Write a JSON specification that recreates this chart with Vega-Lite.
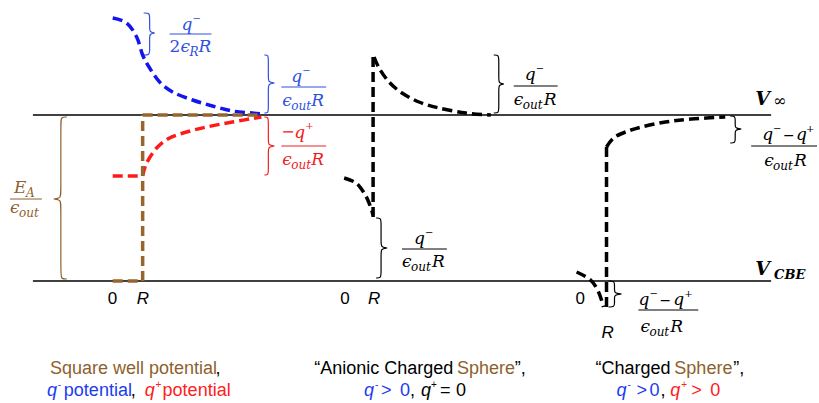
{
"$schema": "https://vega.github.io/schema/vega-lite/v6.json",
"width": 819, "height": 403,
"autosize": {"type": "fit", "contains": "padding"},
"padding": 0,
"background": "white",
"config": {"view": {"stroke": null}},
"datasets": {
"dash": [
{"id":"red1","o":1,"x":113,"y":176,"c":"#FF1A1A"},{"id":"red1","o":2,"x":143,"y":176,"c":"#FF1A1A"},
{"id":"red2","o":1,"x":143,"y":176,"c":"#FF1A1A"},{"id":"red2","o":2,"x":147,"y":163,"c":"#FF1A1A"},{"id":"red2","o":3,"x":157,"y":148,"c":"#FF1A1A"},{"id":"red2","o":4,"x":170,"y":138,"c":"#FF1A1A"},{"id":"red2","o":5,"x":187,"y":132,"c":"#FF1A1A"},{"id":"red2","o":6,"x":207,"y":127,"c":"#FF1A1A"},{"id":"red2","o":7,"x":233,"y":122,"c":"#FF1A1A"},{"id":"red2","o":8,"x":262,"y":117,"c":"#FF1A1A"},
{"id":"blue","o":1,"x":113,"y":18,"c":"#1414F0"},{"id":"blue","o":2,"x":127,"y":23,"c":"#1414F0"},{"id":"blue","o":3,"x":137,"y":37,"c":"#1414F0"},{"id":"blue","o":4,"x":143,"y":55,"c":"#1414F0"},{"id":"blue","o":5,"x":150,"y":68,"c":"#1414F0"},{"id":"blue","o":6,"x":160,"y":82,"c":"#1414F0"},{"id":"blue","o":7,"x":173,"y":92,"c":"#1414F0"},{"id":"blue","o":8,"x":193,"y":100,"c":"#1414F0"},{"id":"blue","o":9,"x":213,"y":106,"c":"#1414F0"},{"id":"blue","o":10,"x":233,"y":111,"c":"#1414F0"},{"id":"blue","o":11,"x":253,"y":113,"c":"#1414F0"},{"id":"blue","o":12,"x":262,"y":114,"c":"#1414F0"},
{"id":"br1","o":1,"x":113,"y":281,"c":"#98652F"},{"id":"br1","o":2,"x":143,"y":281,"c":"#98652F"},
{"id":"br2","o":1,"x":143,"y":281,"c":"#98652F"},{"id":"br2","o":2,"x":143,"y":115,"c":"#98652F"},
{"id":"br3","o":1,"x":143,"y":115,"c":"#98652F"},{"id":"br3","o":2,"x":262,"y":115,"c":"#98652F"},
{"id":"k2v","o":1,"x":374,"y":217,"c":"#000000"},{"id":"k2v","o":2,"x":374,"y":55,"c":"#000000"},
{"id":"k2c","o":1,"x":375,"y":57,"c":"#000000"},{"id":"k2c","o":2,"x":380,"y":68,"c":"#000000"},{"id":"k2c","o":3,"x":390,"y":82,"c":"#000000"},{"id":"k2c","o":4,"x":403,"y":93,"c":"#000000"},{"id":"k2c","o":5,"x":420,"y":102,"c":"#000000"},{"id":"k2c","o":6,"x":440,"y":108,"c":"#000000"},{"id":"k2c","o":7,"x":467,"y":113,"c":"#000000"},{"id":"k2c","o":8,"x":492,"y":115,"c":"#000000"},
{"id":"k2l","o":1,"x":345,"y":178,"c":"#000000"},{"id":"k2l","o":2,"x":357,"y":183,"c":"#000000"},{"id":"k2l","o":3,"x":365,"y":193,"c":"#000000"},{"id":"k2l","o":4,"x":370,"y":203,"c":"#000000"},{"id":"k2l","o":5,"x":374,"y":215,"c":"#000000"},
{"id":"k3v","o":1,"x":608,"y":147,"c":"#000000"},{"id":"k3v","o":2,"x":608,"y":310,"c":"#000000"},
{"id":"k3c","o":1,"x":608,"y":147,"c":"#000000"},{"id":"k3c","o":2,"x":615,"y":138,"c":"#000000"},{"id":"k3c","o":3,"x":627,"y":132,"c":"#000000"},{"id":"k3c","o":4,"x":643,"y":127,"c":"#000000"},{"id":"k3c","o":5,"x":667,"y":122,"c":"#000000"},{"id":"k3c","o":6,"x":693,"y":119,"c":"#000000"},{"id":"k3c","o":7,"x":727,"y":117,"c":"#000000"},
{"id":"k3l","o":1,"x":578,"y":272,"c":"#000000"},{"id":"k3l","o":2,"x":592,"y":280,"c":"#000000"},{"id":"k3l","o":3,"x":600,"y":292,"c":"#000000"},{"id":"k3l","o":4,"x":605,"y":307,"c":"#000000"}
],
"solid": [
{"id":"h1","o":1,"x":33,"y":115,"c":"#000000","w":1.3},{"id":"h1","o":2,"x":773,"y":115,"c":"#000000","w":1.3},
{"id":"h2","o":1,"x":33,"y":281,"c":"#000000","w":1.3},{"id":"h2","o":2,"x":773,"y":281,"c":"#000000","w":1.3},
{"id":"f1","o":1,"x":170,"y":34,"c":"#3050E0","w":1},{"id":"f1","o":2,"x":212,"y":34,"c":"#3050E0","w":1},
{"id":"f2","o":1,"x":282,"y":87,"c":"#3050E0","w":1},{"id":"f2","o":2,"x":327,"y":87,"c":"#3050E0","w":1},
{"id":"f3","o":1,"x":282,"y":146,"c":"#F02020","w":1},{"id":"f3","o":2,"x":327,"y":146,"c":"#F02020","w":1},
{"id":"f4","o":1,"x":515,"y":86,"c":"#000000","w":1},{"id":"f4","o":2,"x":559,"y":86,"c":"#000000","w":1},
{"id":"f5","o":1,"x":403,"y":249,"c":"#000000","w":1},{"id":"f5","o":2,"x":448,"y":249,"c":"#000000","w":1},
{"id":"f6","o":1,"x":10,"y":199,"c":"#8E5F2E","w":1},{"id":"f6","o":2,"x":42,"y":199,"c":"#8E5F2E","w":1},
{"id":"f7","o":1,"x":753,"y":146,"c":"#000000","w":1},{"id":"f7","o":2,"x":819,"y":146,"c":"#000000","w":1},
{"id":"f8","o":1,"x":640,"y":310,"c":"#000000","w":1},{"id":"f8","o":2,"x":700,"y":310,"c":"#000000","w":1},
{"id":"b1","o":1,"x":67,"y":117,"c":"#8E5F2E","w":1.2},{"id":"b1","o":2,"x":61,"y":117,"c":"#8E5F2E","w":1.2},{"id":"b1","o":3,"x":61,"y":123,"c":"#8E5F2E","w":1.2},{"id":"b1","o":4,"x":61,"y":193,"c":"#8E5F2E","w":1.2},{"id":"b1","o":5,"x":61,"y":198,"c":"#8E5F2E","w":1.2},{"id":"b1","o":6,"x":54,"y":199,"c":"#8E5F2E","w":1.2},{"id":"b1","o":7,"x":54,"y":199,"c":"#8E5F2E","w":1.2},{"id":"b1","o":8,"x":61,"y":200,"c":"#8E5F2E","w":1.2},{"id":"b1","o":9,"x":61,"y":205,"c":"#8E5F2E","w":1.2},{"id":"b1","o":10,"x":61,"y":273,"c":"#8E5F2E","w":1.2},{"id":"b1","o":11,"x":61,"y":279,"c":"#8E5F2E","w":1.2},{"id":"b1","o":12,"x":67,"y":279,"c":"#8E5F2E","w":1.2},
{"id":"b2","o":1,"x":144,"y":13,"c":"#3050E0","w":1.2},{"id":"b2","o":2,"x":150,"y":13,"c":"#3050E0","w":1.2},{"id":"b2","o":3,"x":150,"y":18,"c":"#3050E0","w":1.2},{"id":"b2","o":4,"x":150,"y":28,"c":"#3050E0","w":1.2},{"id":"b2","o":5,"x":150,"y":32,"c":"#3050E0","w":1.2},{"id":"b2","o":6,"x":155,"y":33,"c":"#3050E0","w":1.2},{"id":"b2","o":7,"x":155,"y":33,"c":"#3050E0","w":1.2},{"id":"b2","o":8,"x":150,"y":34,"c":"#3050E0","w":1.2},{"id":"b2","o":9,"x":150,"y":38,"c":"#3050E0","w":1.2},{"id":"b2","o":10,"x":150,"y":50,"c":"#3050E0","w":1.2},{"id":"b2","o":11,"x":150,"y":55,"c":"#3050E0","w":1.2},{"id":"b2","o":12,"x":144,"y":55,"c":"#3050E0","w":1.2},
{"id":"b3","o":1,"x":265,"y":55,"c":"#3050E0","w":1.2},{"id":"b3","o":2,"x":269,"y":55,"c":"#3050E0","w":1.2},{"id":"b3","o":3,"x":269,"y":60,"c":"#3050E0","w":1.2},{"id":"b3","o":4,"x":269,"y":78,"c":"#3050E0","w":1.2},{"id":"b3","o":5,"x":269,"y":82,"c":"#3050E0","w":1.2},{"id":"b3","o":6,"x":275,"y":83,"c":"#3050E0","w":1.2},{"id":"b3","o":7,"x":275,"y":83,"c":"#3050E0","w":1.2},{"id":"b3","o":8,"x":269,"y":84,"c":"#3050E0","w":1.2},{"id":"b3","o":9,"x":269,"y":88,"c":"#3050E0","w":1.2},{"id":"b3","o":10,"x":269,"y":108,"c":"#3050E0","w":1.2},{"id":"b3","o":11,"x":269,"y":113,"c":"#3050E0","w":1.2},{"id":"b3","o":12,"x":265,"y":113,"c":"#3050E0","w":1.2},
{"id":"b4","o":1,"x":265,"y":117,"c":"#F02020","w":1.2},{"id":"b4","o":2,"x":269,"y":117,"c":"#F02020","w":1.2},{"id":"b4","o":3,"x":269,"y":122,"c":"#F02020","w":1.2},{"id":"b4","o":4,"x":269,"y":141,"c":"#F02020","w":1.2},{"id":"b4","o":5,"x":269,"y":145,"c":"#F02020","w":1.2},{"id":"b4","o":6,"x":275,"y":146,"c":"#F02020","w":1.2},{"id":"b4","o":7,"x":275,"y":146,"c":"#F02020","w":1.2},{"id":"b4","o":8,"x":269,"y":147,"c":"#F02020","w":1.2},{"id":"b4","o":9,"x":269,"y":151,"c":"#F02020","w":1.2},{"id":"b4","o":10,"x":269,"y":170,"c":"#F02020","w":1.2},{"id":"b4","o":11,"x":269,"y":175,"c":"#F02020","w":1.2},{"id":"b4","o":12,"x":265,"y":175,"c":"#F02020","w":1.2},
{"id":"b5","o":1,"x":495,"y":55,"c":"#000000","w":1.2},{"id":"b5","o":2,"x":500,"y":55,"c":"#000000","w":1.2},{"id":"b5","o":3,"x":500,"y":60,"c":"#000000","w":1.2},{"id":"b5","o":4,"x":500,"y":79,"c":"#000000","w":1.2},{"id":"b5","o":5,"x":500,"y":83,"c":"#000000","w":1.2},{"id":"b5","o":6,"x":505,"y":84,"c":"#000000","w":1.2},{"id":"b5","o":7,"x":505,"y":84,"c":"#000000","w":1.2},{"id":"b5","o":8,"x":500,"y":85,"c":"#000000","w":1.2},{"id":"b5","o":9,"x":500,"y":89,"c":"#000000","w":1.2},{"id":"b5","o":10,"x":500,"y":108,"c":"#000000","w":1.2},{"id":"b5","o":11,"x":500,"y":113,"c":"#000000","w":1.2},{"id":"b5","o":12,"x":495,"y":113,"c":"#000000","w":1.2},
{"id":"b6","o":1,"x":377,"y":218,"c":"#000000","w":1.2},{"id":"b6","o":2,"x":382,"y":218,"c":"#000000","w":1.2},{"id":"b6","o":3,"x":382,"y":223,"c":"#000000","w":1.2},{"id":"b6","o":4,"x":382,"y":243,"c":"#000000","w":1.2},{"id":"b6","o":5,"x":382,"y":247,"c":"#000000","w":1.2},{"id":"b6","o":6,"x":388,"y":248,"c":"#000000","w":1.2},{"id":"b6","o":7,"x":388,"y":248,"c":"#000000","w":1.2},{"id":"b6","o":8,"x":382,"y":249,"c":"#000000","w":1.2},{"id":"b6","o":9,"x":382,"y":253,"c":"#000000","w":1.2},{"id":"b6","o":10,"x":382,"y":273,"c":"#000000","w":1.2},{"id":"b6","o":11,"x":382,"y":278,"c":"#000000","w":1.2},{"id":"b6","o":12,"x":377,"y":278,"c":"#000000","w":1.2},
{"id":"b7","o":1,"x":732,"y":116,"c":"#000000","w":1.2},{"id":"b7","o":2,"x":737,"y":116,"c":"#000000","w":1.2},{"id":"b7","o":3,"x":737,"y":120,"c":"#000000","w":1.2},{"id":"b7","o":4,"x":737,"y":125,"c":"#000000","w":1.2},{"id":"b7","o":5,"x":737,"y":128,"c":"#000000","w":1.2},{"id":"b7","o":6,"x":743,"y":129,"c":"#000000","w":1.2},{"id":"b7","o":7,"x":743,"y":129,"c":"#000000","w":1.2},{"id":"b7","o":8,"x":737,"y":130,"c":"#000000","w":1.2},{"id":"b7","o":9,"x":737,"y":133,"c":"#000000","w":1.2},{"id":"b7","o":10,"x":737,"y":139,"c":"#000000","w":1.2},{"id":"b7","o":11,"x":737,"y":143,"c":"#000000","w":1.2},{"id":"b7","o":12,"x":732,"y":143,"c":"#000000","w":1.2},
{"id":"b8","o":1,"x":610,"y":281,"c":"#000000","w":1.2},{"id":"b8","o":2,"x":616,"y":281,"c":"#000000","w":1.2},{"id":"b8","o":3,"x":616,"y":285,"c":"#000000","w":1.2},{"id":"b8","o":4,"x":616,"y":290,"c":"#000000","w":1.2},{"id":"b8","o":5,"x":616,"y":293,"c":"#000000","w":1.2},{"id":"b8","o":6,"x":623,"y":294,"c":"#000000","w":1.2},{"id":"b8","o":7,"x":623,"y":294,"c":"#000000","w":1.2},{"id":"b8","o":8,"x":616,"y":295,"c":"#000000","w":1.2},{"id":"b8","o":9,"x":616,"y":298,"c":"#000000","w":1.2},{"id":"b8","o":10,"x":616,"y":303,"c":"#000000","w":1.2},{"id":"b8","o":11,"x":616,"y":307,"c":"#000000","w":1.2},{"id":"b8","o":12,"x":610,"y":307,"c":"#000000","w":1.2}
],
"txt": [
{"k":"mi","x":182,"y":30,"t":"q","c":"#3050E0","s":17},{"k":"mr","x":193,"y":22,"t":"−","c":"#3050E0","s":10},{"k":"mr","x":170,"y":52,"t":"2","c":"#3050E0","s":17},{"k":"mi","x":181,"y":52,"t":"ϵ","c":"#3050E0","s":17},{"k":"mi","x":190,"y":56,"t":"R","c":"#3050E0","s":12},{"k":"mi","x":199,"y":52,"t":"R","c":"#3050E0","s":17},
{"k":"mi","x":292,"y":82,"t":"q","c":"#3050E0","s":17},{"k":"mr","x":303,"y":74,"t":"−","c":"#3050E0","s":10},{"k":"mi","x":283,"y":106,"t":"ϵ","c":"#3050E0","s":17},{"k":"mi","x":292,"y":110,"t":"out","c":"#3050E0","s":12},{"k":"mi","x":312,"y":106,"t":"R","c":"#3050E0","s":17},
{"k":"mr","x":282,"y":137,"t":"−","c":"#F02020","s":16},{"k":"mi","x":295,"y":138,"t":"q","c":"#F02020","s":17},{"k":"mr","x":306,"y":129,"t":"+","c":"#F02020","s":10},{"k":"mi","x":283,"y":165,"t":"ϵ","c":"#F02020","s":17},{"k":"mi","x":292,"y":169,"t":"out","c":"#F02020","s":12},{"k":"mi","x":312,"y":165,"t":"R","c":"#F02020","s":17},
{"k":"mi","x":526,"y":80,"t":"q","c":"#000000","s":17},{"k":"mr","x":537,"y":72,"t":"−","c":"#000000","s":10},{"k":"mi","x":515,"y":105,"t":"ϵ","c":"#000000","s":17},{"k":"mi","x":524,"y":109,"t":"out","c":"#000000","s":12},{"k":"mi","x":545,"y":105,"t":"R","c":"#000000","s":17},
{"k":"mi","x":415,"y":244,"t":"q","c":"#000000","s":17},{"k":"mr","x":426,"y":236,"t":"−","c":"#000000","s":10},{"k":"mi","x":403,"y":267,"t":"ϵ","c":"#000000","s":17},{"k":"mi","x":412,"y":271,"t":"out","c":"#000000","s":12},{"k":"mi","x":433,"y":267,"t":"R","c":"#000000","s":17},
{"k":"mi","x":14,"y":193,"t":"E","c":"#8E5F2E","s":17},{"k":"mi","x":26,"y":197,"t":"A","c":"#8E5F2E","s":12},{"k":"mi","x":10,"y":213,"t":"ϵ","c":"#8E5F2E","s":17},{"k":"mi","x":19,"y":217,"t":"out","c":"#8E5F2E","s":12},
{"k":"mi","x":764,"y":140,"t":"q","c":"#000000","s":17},{"k":"mr","x":775,"y":132,"t":"−","c":"#000000","s":10},{"k":"mr","x":785,"y":140,"t":"−","c":"#000000","s":14},{"k":"mi","x":798,"y":140,"t":"q","c":"#000000","s":17},{"k":"mr","x":808,"y":132,"t":"+","c":"#000000","s":10},{"k":"mi","x":766,"y":166,"t":"ϵ","c":"#000000","s":17},{"k":"mi","x":775,"y":170,"t":"out","c":"#000000","s":12},{"k":"mi","x":796,"y":166,"t":"R","c":"#000000","s":17},
{"k":"mi","x":640,"y":305,"t":"q","c":"#000000","s":17},{"k":"mr","x":651,"y":297,"t":"−","c":"#000000","s":10},{"k":"mr","x":661,"y":305,"t":"−","c":"#000000","s":14},{"k":"mi","x":675,"y":305,"t":"q","c":"#000000","s":17},{"k":"mr","x":686,"y":297,"t":"+","c":"#000000","s":10},{"k":"mi","x":642,"y":332,"t":"ϵ","c":"#000000","s":17},{"k":"mi","x":651,"y":336,"t":"out","c":"#000000","s":12},{"k":"mi","x":672,"y":332,"t":"R","c":"#000000","s":17},
{"k":"mb","x":757,"y":105,"t":"V","c":"#000000","s":19},{"k":"mr","x":775,"y":106,"t":"∞","c":"#000000","s":16},{"k":"mb","x":757,"y":275,"t":"V","c":"#000000","s":19},{"k":"mb","x":776,"y":279,"t":"CBE","c":"#000000","s":13},
{"k":"sr","x":108,"y":304,"t":"0","c":"#000000","s":17},{"k":"si","x":137,"y":304,"t":"R","c":"#000000","s":17},{"k":"sr","x":341,"y":304,"t":"0","c":"#000000","s":17},{"k":"si","x":369,"y":304,"t":"R","c":"#000000","s":17},{"k":"sr","x":577,"y":304,"t":"0","c":"#000000","s":17},{"k":"si","x":603,"y":338,"t":"R","c":"#000000","s":17},
{"k":"sr","x":50,"y":374,"t":"Square well potential","c":"#8E5F2E","s":18},{"k":"sr","x":216,"y":374,"t":",","c":"#000000","s":18},
{"k":"si","x":47,"y":396,"t":"q","c":"#1A3CF0","s":18},{"k":"sr","x":58,"y":388,"t":"-","c":"#1A3CF0","s":10},{"k":"sr","x":64,"y":396,"t":"potential","c":"#1A3CF0","s":18},{"k":"sr","x":131,"y":396,"t":",","c":"#000000","s":18},{"k":"si","x":145,"y":396,"t":"q","c":"#FF2020","s":18},{"k":"sr","x":156,"y":388,"t":"+","c":"#FF2020","s":10},{"k":"sr","x":163,"y":396,"t":"potential","c":"#FF2020","s":18},
{"k":"sr","x":315,"y":374,"t":"“Anionic Charged","c":"#000000","s":18},{"k":"sr","x":458,"y":374,"t":"Sphere","c":"#8E5F2E","s":18},{"k":"sr","x":516,"y":374,"t":"”,","c":"#000000","s":18},
{"k":"si","x":365,"y":396,"t":"q","c":"#1A3CF0","s":18},{"k":"sr","x":376,"y":388,"t":"-","c":"#1A3CF0","s":10},{"k":"sr","x":382,"y":396,"t":">","c":"#1A3CF0","s":18},{"k":"sr","x":401,"y":396,"t":"0","c":"#1A3CF0","s":18},{"k":"sr","x":411,"y":396,"t":",","c":"#000000","s":18},{"k":"si","x":422,"y":396,"t":"q","c":"#000000","s":18},{"k":"sr","x":432,"y":388,"t":"+","c":"#000000","s":10},{"k":"sr","x":441,"y":396,"t":"=","c":"#000000","s":18},{"k":"sr","x":457,"y":396,"t":"0","c":"#000000","s":18},
{"k":"sr","x":597,"y":374,"t":"“Charged","c":"#000000","s":18},{"k":"sr","x":676,"y":374,"t":"Sphere","c":"#8E5F2E","s":18},{"k":"sr","x":735,"y":374,"t":"”,","c":"#000000","s":18},
{"k":"si","x":618,"y":396,"t":"q","c":"#1A3CF0","s":18},{"k":"sr","x":629,"y":388,"t":"-","c":"#1A3CF0","s":10},{"k":"sr","x":638,"y":396,"t":">","c":"#1A3CF0","s":18},{"k":"sr","x":651,"y":396,"t":"0","c":"#1A3CF0","s":18},{"k":"sr","x":662,"y":396,"t":",","c":"#000000","s":18},{"k":"si","x":672,"y":396,"t":"q","c":"#FF2020","s":18},{"k":"sr","x":683,"y":388,"t":"+","c":"#FF2020","s":10},{"k":"sr","x":693,"y":396,"t":">","c":"#FF2020","s":18},{"k":"sr","x":712,"y":396,"t":"0","c":"#FF2020","s":18}
]
},
"encoding": {
"x": {"field": "x", "type": "quantitative", "axis": null, "scale": {"domain": [0, 819], "nice": false, "zero": false}},
"y": {"field": "y", "type": "quantitative", "axis": null, "scale": {"domain": [0, 403], "reverse": true, "nice": false, "zero": false}}
},
"layer": [
{"data": {"name": "solid"}, "mark": {"type": "line", "interpolate": "basis"},
 "encoding": {"detail": {"field": "id"}, "order": {"field": "o", "type": "quantitative"}, "color": {"field": "c", "type": "nominal", "scale": null}, "strokeWidth": {"field": "w", "type": "quantitative", "scale": null}}},
{"data": {"name": "dash"}, "mark": {"type": "line", "interpolate": "cardinal", "strokeWidth": 3.5, "strokeDash": [10, 5], "strokeCap": "butt"},
 "encoding": {"detail": {"field": "id"}, "order": {"field": "o", "type": "quantitative"}, "color": {"field": "c", "type": "nominal", "scale": null}}},
{"data": {"name": "txt"}, "transform": [{"filter": "datum.k === 'mi'"}], "mark": {"type": "text", "align": "left", "baseline": "alphabetic", "font": "DejaVu Serif", "fontStyle": "italic"},
 "encoding": {"text": {"field": "t"}, "color": {"field": "c", "type": "nominal", "scale": null}, "size": {"field": "s", "type": "quantitative", "scale": null}}},
{"data": {"name": "txt"}, "transform": [{"filter": "datum.k === 'mr'"}], "mark": {"type": "text", "align": "left", "baseline": "alphabetic", "font": "DejaVu Serif"},
 "encoding": {"text": {"field": "t"}, "color": {"field": "c", "type": "nominal", "scale": null}, "size": {"field": "s", "type": "quantitative", "scale": null}}},
{"data": {"name": "txt"}, "transform": [{"filter": "datum.k === 'mb'"}], "mark": {"type": "text", "align": "left", "baseline": "alphabetic", "font": "DejaVu Serif", "fontStyle": "italic", "fontWeight": "bold"},
 "encoding": {"text": {"field": "t"}, "color": {"field": "c", "type": "nominal", "scale": null}, "size": {"field": "s", "type": "quantitative", "scale": null}}},
{"data": {"name": "txt"}, "transform": [{"filter": "datum.k === 'sr'"}], "mark": {"type": "text", "align": "left", "baseline": "alphabetic", "font": "Liberation Sans"},
 "encoding": {"text": {"field": "t"}, "color": {"field": "c", "type": "nominal", "scale": null}, "size": {"field": "s", "type": "quantitative", "scale": null}}},
{"data": {"name": "txt"}, "transform": [{"filter": "datum.k === 'si'"}], "mark": {"type": "text", "align": "left", "baseline": "alphabetic", "font": "Liberation Sans", "fontStyle": "italic"},
 "encoding": {"text": {"field": "t"}, "color": {"field": "c", "type": "nominal", "scale": null}, "size": {"field": "s", "type": "quantitative", "scale": null}}}
]
}
